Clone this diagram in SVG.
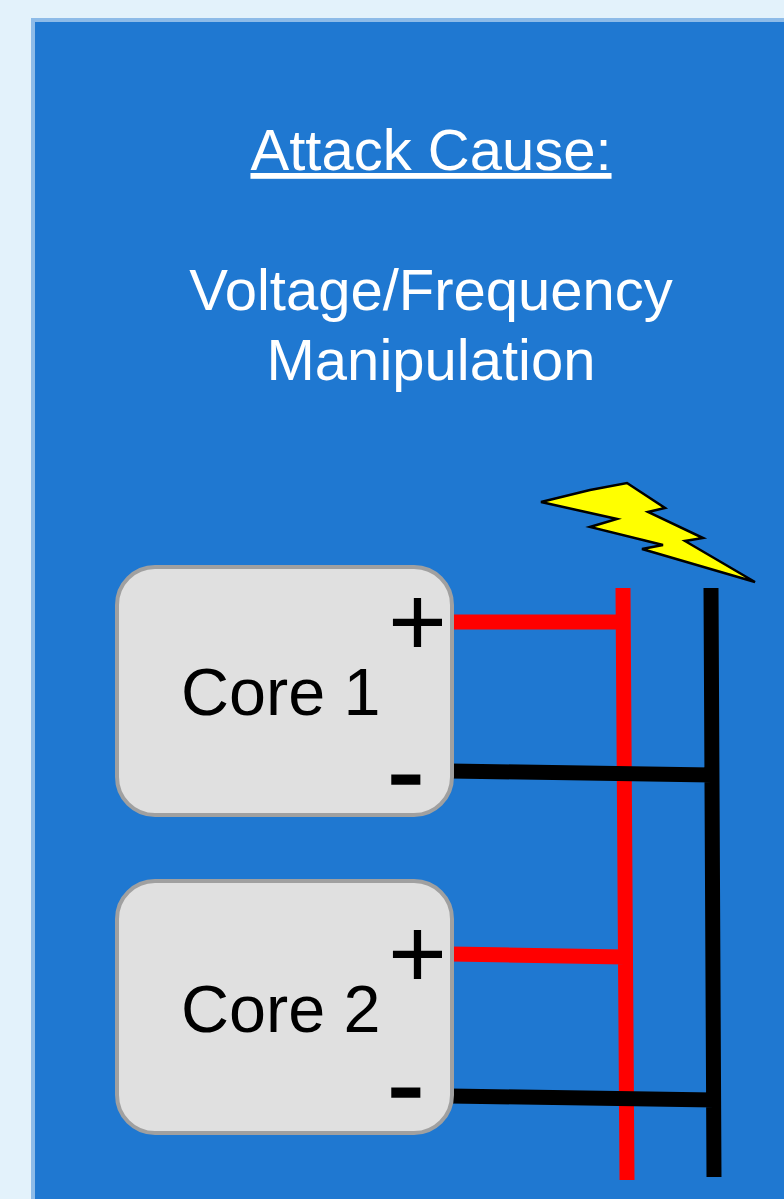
<svg xmlns="http://www.w3.org/2000/svg" width="784" height="1199" viewBox="0 0 784 1199">
<defs><filter id="soft" x="-5%" y="-5%" width="110%" height="110%"><feGaussianBlur stdDeviation="0.7"/></filter></defs>
<style>
text{font-family:"Liberation Sans",Arial,sans-serif;filter:url(#soft)}
.h{font-size:58px;fill:#fff;text-anchor:middle}
.c{font-size:66.5px;fill:#000}
.p{font-size:101px;fill:#000}
.m{font-size:113px;fill:#000;stroke:#000;stroke-width:1.5}
.box{fill:#e0e0e0;stroke:#a0a0a0;stroke-width:4}
.r{stroke:#f00;stroke-width:15;fill:none;filter:url(#soft)}
.k{stroke:#000;stroke-width:15;fill:none;filter:url(#soft)}
</style>
<rect width="784" height="1199" fill="#e3f2fb"/>
<rect id="panel" x="33" y="20" width="760" height="1200" fill="#1f78d1" stroke="#8dbbe8" stroke-width="4"/>
<g id="title">
<text class="h" x="431" y="170" text-decoration="underline">Attack Cause:</text>
<text class="h" x="431" y="310">Voltage/Frequency</text>
<text class="h" x="431" y="380">Manipulation</text>
</g>
<g id="connectors">
<path class="r" d="M623 588L627 1180M450 622H623M450 954L625 957"/>
<path class="k" d="M711 588L714 1177M450 771L712 775M450 1096L714 1100"/>
</g>
<g id="core1">
<rect class="box" x="117" y="567" width="335" height="248" rx="38"/>
<text class="c" x="181" y="715">Core 1</text>
<text class="p" x="388" y="656">+</text>
<text class="m" x="387" y="810">-</text>
</g>
<g id="core2">
<rect class="box" x="117" y="881" width="335" height="252" rx="38"/>
<text class="c" x="181" y="1032">Core 2</text>
<text class="p" x="388" y="988">+</text>
<text class="m" x="387" y="1123">-</text>
</g>
<polygon id="bolt" points="541,502 590,490 627,483 665,508 648,512 703,538 685,541 755,582 642,549 663,545 590,527 617,519" fill="#ff0" stroke="#000" stroke-width="2.5" filter="url(#soft)"/>
</svg>
